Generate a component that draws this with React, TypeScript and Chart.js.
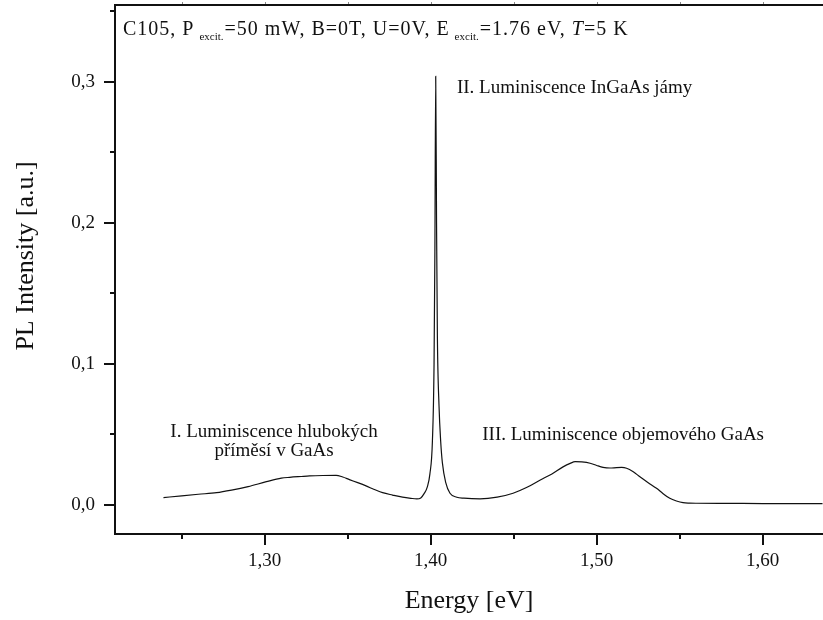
import React, { useEffect, useRef } from "react";
import { Chart, registerables } from "chart.js";

Chart.register(...registerables);

// ---- data ----
const energy = [
  1.239, 1.25, 1.26, 1.271, 1.28, 1.29, 1.301, 1.31, 1.315, 1.322, 1.327, 1.335, 1.343, 1.347, 1.351,
  1.356, 1.361, 1.366, 1.371, 1.377, 1.383, 1.388, 1.3916, 1.394, 1.396, 1.398, 1.3995, 1.401, 1.402,
  1.4025, 1.403, 1.4035, 1.404, 1.405, 1.406, 1.407, 1.409, 1.4116, 1.4157, 1.42, 1.4297, 1.44, 1.4496,
  1.458, 1.466, 1.473, 1.4797, 1.484, 1.487, 1.491, 1.496, 1.5, 1.5038, 1.508, 1.512, 1.515, 1.518,
  1.522, 1.526, 1.531, 1.536, 1.54, 1.544, 1.548, 1.552, 1.556, 1.56, 1.58, 1.6, 1.62, 1.636,
];
const intensity = [
  0.0052, 0.0065, 0.0076, 0.0087, 0.0105, 0.013, 0.0165, 0.019, 0.0196, 0.0202, 0.0206, 0.0209, 0.021,
  0.0198, 0.018, 0.0158, 0.0135, 0.011, 0.0087, 0.007, 0.0055, 0.0047, 0.0043, 0.005, 0.008, 0.013,
  0.022, 0.045, 0.1, 0.18, 0.304, 0.2, 0.12, 0.07, 0.045, 0.03, 0.016, 0.0083, 0.0055, 0.0048, 0.0043,
  0.0055, 0.0083, 0.0125, 0.0177, 0.022, 0.027, 0.0295, 0.0307, 0.0305, 0.0296, 0.028, 0.0267, 0.0262,
  0.0265, 0.0266, 0.026, 0.0235, 0.02, 0.0158, 0.0118, 0.008, 0.0047, 0.0028, 0.0016, 0.0013, 0.0012,
  0.0011, 0.001, 0.001, 0.001,
];

const xMajorTicks = [1.3, 1.4, 1.5, 1.6];
const xMinorTicks = [1.25, 1.35, 1.45, 1.55];
const yMajorTicks = [0, 0.1, 0.2, 0.3];
const yMinorTicks = [0.05, 0.15, 0.25, 0.35];
const xRange = [1.2098, 1.6363];
const yRange = [-0.0206, 0.3546];

const xTitle = "Energy [eV]";
const yTitle = "PL Intensity [a.u.]";

const annotations = [
  { lines: ["I. Luminiscence hlubokých", "příměsí v GaAs"], x: 1.3056, y: 0.052, align: "center" },
  { lines: ["II. Luminiscence InGaAs jámy"], x: 1.4158, y: 0.2957, align: "left" },
  { lines: ["III. Luminiscence objemového GaAs"], x: 1.5159, y: 0.0496, align: "center" },
];

const headerSegments = [
  { t: "C105, P", s: "main" },
  { t: "excit.", s: "sub" },
  { t: "=50 mW, B=0T, U=0V, E", s: "main" },
  { t: "excit.", s: "sub" },
  { t: "=1.76 eV, ", s: "main" },
  { t: "T", s: "italic" },
  { t: "=5 K", s: "main" },
];

const FONT = "'Liberation Serif', 'Times New Roman', serif";
const INK = "#111";

const framePlugin = {
  id: "frame",
  afterDraw(chart: any) {
    const { ctx, chartArea, scales } = chart;
    const { left, right, top, bottom } = chartArea;
    const xs = scales.x;
    const ys = scales.y;
    ctx.save();
    ctx.strokeStyle = INK;
    ctx.lineWidth = 2;
    ctx.beginPath();
    ctx.moveTo(left, top);
    ctx.lineTo(right + 2, top);
    ctx.moveTo(left, top - 1);
    ctx.lineTo(left, bottom + 1);
    ctx.moveTo(left - 1, bottom);
    ctx.lineTo(right + 2, bottom);
    yMajorTicks.forEach((v) => {
      const p = Math.round(ys.getPixelForValue(v));
      ctx.moveTo(left - 11, p);
      ctx.lineTo(left, p);
    });
    yMinorTicks.forEach((v) => {
      const p = Math.round(ys.getPixelForValue(v));
      ctx.moveTo(left - 5, p);
      ctx.lineTo(left, p);
    });
    xMajorTicks.forEach((v) => {
      const p = Math.round(xs.getPixelForValue(v));
      ctx.moveTo(p, bottom);
      ctx.lineTo(p, bottom + 11);
    });
    xMinorTicks.forEach((v) => {
      const p = Math.round(xs.getPixelForValue(v));
      ctx.moveTo(p, bottom);
      ctx.lineTo(p, bottom + 5);
    });
    ctx.stroke();

    ctx.strokeStyle = "#888";
    ctx.lineWidth = 1;
    ctx.beginPath();
    [...xMajorTicks, ...xMinorTicks].forEach((v) => {
      const p = Math.round(xs.getPixelForValue(v)) + 0.5;
      ctx.moveTo(p, top - 1);
      ctx.lineTo(p, top - 3);
    });
    ctx.stroke();

    ctx.fillStyle = INK;
    ctx.font = `26px ${FONT}`;
    ctx.textAlign = "center";
    ctx.textBaseline = "middle";
    ctx.fillText(xTitle, (left + right) / 2, 601);
    ctx.save();
    ctx.translate(26, 256);
    ctx.rotate(-Math.PI / 2);
    ctx.font = `26px ${FONT}`;
    ctx.fillText(yTitle, 0, 0);
    ctx.restore();

    ctx.font = `19px ${FONT}`;
    ctx.textBaseline = "middle";
    annotations.forEach((a) => {
      const px = xs.getPixelForValue(a.x);
      const py = ys.getPixelForValue(a.y);
      ctx.textAlign = a.align as CanvasTextAlign;
      a.lines.forEach((ln, i) => ctx.fillText(ln, px, py + i * 19));
    });

    ctx.textAlign = "left";
    ctx.textBaseline = "alphabetic";
    (ctx as any).letterSpacing = "1px";
    let cx = left + 8;
    const base = 35;
    headerSegments.forEach((seg) => {
      if (seg.s === "sub") {
        ctx.font = `11px ${FONT}`;
        (ctx as any).letterSpacing = "0px";
        cx += 5;
        ctx.fillText(seg.t, cx, base + 5);
        cx += ctx.measureText(seg.t).width + 1;
        (ctx as any).letterSpacing = "1px";
      } else {
        ctx.font = seg.s === "italic" ? `italic 20px ${FONT}` : `20px ${FONT}`;
        ctx.fillText(seg.t, cx, base);
        cx += ctx.measureText(seg.t).width;
      }
    });
    (ctx as any).letterSpacing = "0px";
    ctx.restore();
  },
};

export default function App() {
  const ref = useRef<HTMLCanvasElement | null>(null);

  useEffect(() => {
    document.body.style.margin = "0";
    const canvas = ref.current;
    if (!canvas) return;
    const points = energy.map((e, i) => ({ x: e, y: intensity[i] }));
    const chart = new Chart(canvas, {
      type: "line",
      data: {
        datasets: [
          {
            data: points,
            borderColor: "#111",
            borderWidth: 1.2,
            pointRadius: 0,
            fill: false,
            cubicInterpolationMode: "monotone",
          },
        ],
      },
      options: {
        responsive: false,
        animation: false,
        devicePixelRatio: 1,
        layout: { padding: { top: 5, right: 0, left: 0, bottom: 0 } },
        plugins: { legend: { display: false }, tooltip: { enabled: false } },
        scales: {
          x: {
            type: "linear",
            min: xRange[0],
            max: xRange[1],
            grid: { display: false, drawTicks: false },
            border: { display: false },
            afterFit: (s: any) => {
              s.height = 86;
              s.paddingLeft = 0;
              s.paddingRight = 0;
              s.paddingTop = 0;
              s.paddingBottom = 0;
            },
            afterBuildTicks: (s: any) => {
              s.ticks = xMajorTicks.map((v) => ({ value: v }));
            },
            ticks: {
              padding: 16,
              color: INK,
              font: { family: FONT, size: 19 },
              maxRotation: 0,
              autoSkip: false,
              callback: (v: any) => Number(v).toFixed(2).replace(".", ","),
            },
          },
          y: {
            type: "linear",
            min: yRange[0],
            max: yRange[1],
            grid: { display: false, drawTicks: false },
            border: { display: false },
            afterFit: (s: any) => {
              s.width = 115;
              s.paddingTop = 0;
              s.paddingBottom = 0;
              s.paddingLeft = 0;
              s.paddingRight = 0;
            },
            afterBuildTicks: (s: any) => {
              s.ticks = yMajorTicks.map((v) => ({ value: v }));
            },
            ticks: {
              padding: 20,
              color: INK,
              font: { family: FONT, size: 19 },
              autoSkip: false,
              callback: (v: any) => Number(v).toFixed(1).replace(".", ","),
            },
          },
        },
      },
      plugins: [framePlugin],
    } as any);
    return () => chart.destroy();
  }, []);

  return (
    <div style={{ width: 823, height: 620, position: "relative", background: "#fff" }}>
      <canvas ref={ref} width={823} height={620} style={{ display: "block" }} />
    </div>
  );
}
